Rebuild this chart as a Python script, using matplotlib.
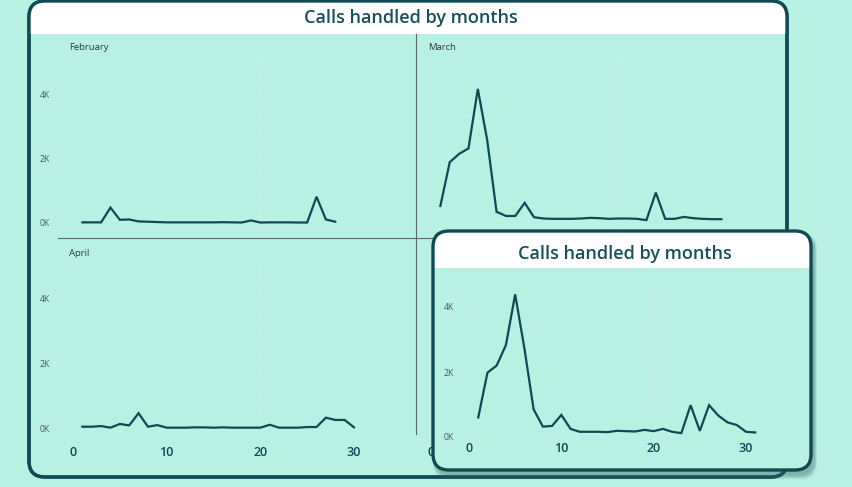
import numpy as np
import matplotlib
matplotlib.use("Agg")
import matplotlib.pyplot as plt
from matplotlib.patches import FancyBboxPatch, Rectangle

plt.rcParams['font.family'] = ['Open Sans', 'DejaVu Sans']

# daily calls handled
feb_calls = [20, 20, 20, 480, 100, 110, 50, 40, 30, 20, 20, 20, 20, 20,
             20, 25, 20, 15, 80, 15, 20, 20, 20, 15, 15, 820, 110, 40]
mar_calls = [530, 1900, 2160, 2330, 4190, 2590, 350, 220, 220, 630, 180,
             140, 130, 130, 130, 140, 160, 150, 130, 140, 140, 130, 90,
             950, 130, 130, 190, 150, 130, 120, 120]
apr_calls = [40, 40, 60, 10, 125, 80, 460, 40, 90, 10, 10, 10, 20, 20, 10,
             20, 10, 10, 10, 10, 100, 10, 10, 10, 30, 30, 320, 250, 250, 20]
detail_calls = [600, 1980, 2200, 2830, 4390, 2730, 850, 320, 340, 680, 250,
                160, 160, 160, 150, 190, 180, 170, 220, 180, 250, 160, 120,
                980, 190, 980, 660, 450, 370, 160, 140]

title = "Calls handled by months"
x_ticks = [0, 10, 20, 30]
y_ticks = [0, 2, 4]
y_labels = ["0K", "2K", "4K"]

MINT = "#b8f0e4"
DARK = "#0e4a54"
TITLE_C = "#15505c"
GREY = "#4d5a59"

W, H = 853, 487
fig = plt.figure(figsize=(W / 100, H / 100), dpi=100)
fig.patch.set_facecolor(MINT)


def px_axes(l, t, r, b, z):
    ax = fig.add_axes([l / W, 1 - b / H, (r - l) / W, (b - t) / H], zorder=z)
    ax.set_facecolor("none")
    return ax


def px_to_val(p, p0, p1, v0, v1):
    return v0 + (p - p0) * (v1 - v0) / (p1 - p0)


def panel(box, xref, yref, calls, z, show_x, show_y, xpad, ypad):
    l, t, r, b = box
    ax = px_axes(l, t, r, b, z)
    ax.set_xlim(px_to_val(l, *xref), px_to_val(r, *xref))
    ax.set_ylim(px_to_val(b, *yref), px_to_val(t, *yref))
    for s in ax.spines.values():
        s.set_visible(False)
    # faint dotted gridline
    ax.plot([20, 20], [-0.2, 5.0], color="white", lw=0.9, ls=(0, (1, 3)), alpha=0.5)
    if calls is not None:
        days = np.arange(1, len(calls) + 1)
        ax.plot(days, np.array(calls) / 1000, color=DARK, lw=1.6,
                solid_joinstyle="miter")
    ax.set_xticks(x_ticks)
    ax.set_xticklabels([str(v) for v in x_ticks], fontsize=9, fontweight="semibold", color=DARK)
    ax.set_yticks(y_ticks)
    ax.set_yticklabels(y_labels, fontsize=6.2, color=GREY)
    ax.tick_params(length=0, labelbottom=show_x, labelleft=show_y)
    ax.tick_params(axis="x", pad=xpad)
    ax.tick_params(axis="y", pad=ypad)
    return ax


# background layer (pixel coords)
bg = px_axes(0, 0, W, H, -10)
bg.set_xlim(0, W)
bg.set_ylim(H, 0)
bg.axis("off")

card = FancyBboxPatch((29, 1), 758, 476, boxstyle="round,pad=0,rounding_size=16",
                      facecolor=MINT, edgecolor=DARK, lw=2.4)
bg.add_patch(card)
band = Rectangle((29, 1), 758, 33, facecolor="white", edgecolor="none")
bg.add_patch(band)
band.set_clip_path(card)
bg.add_patch(FancyBboxPatch((29, 1), 758, 476, boxstyle="round,pad=0,rounding_size=16",
                            facecolor="none", edgecolor=DARK, lw=2.4))
bg.text(411, 18, title, ha="center", va="center", fontsize=13,
        fontweight="semibold", color=TITLE_C)

bg.plot([416, 416], [34, 434], color="#5c6b69", lw=0.8)
bg.plot([58, 787], [238, 238], color="#5c6b69", lw=0.8)

bg.text(69, 48, "February", ha="left", va="center", fontsize=6.8, color="#2f3a3a")
bg.text(428, 48, "March", ha="left", va="center", fontsize=6.8, color="#2f3a3a")
bg.text(69, 253, "April", ha="left", va="center", fontsize=6.8, color="#2f3a3a")

# small multiples
panel((58, 40, 416, 238), (73, 354, 0, 30), (223, 95, 0, 4), feb_calls, 1, False, True, 4, 6)
panel((416, 40, 774, 238), (431, 712, 0, 30), (223, 95, 0, 4), mar_calls, 1, False, False, 4, 6)
panel((58, 238, 416, 436), (73, 354, 0, 30), (428, 299, 0, 4), apr_calls, 1, True, True, 7, 6)
panel((416, 238, 774, 436), (431, 712, 0, 30), (428, 299, 0, 4), None, 1, True, False, 7, 6)

# overlay card with soft shadow
ov = px_axes(0, 0, W, H, 5)
ov.set_xlim(0, W)
ov.set_ylim(H, 0)
ov.axis("off")
for i in range(7):
    ov.add_patch(FancyBboxPatch((436 - i * 0.5, 235 - i * 0.3), 378 + i, 240 + i,
                                boxstyle="round,pad=0,rounding_size=16",
                                facecolor="#3d6b63", edgecolor="none", alpha=0.08))
ocard = FancyBboxPatch((433, 231), 378, 239, boxstyle="round,pad=0,rounding_size=16",
                       facecolor=MINT, edgecolor="none")
ov.add_patch(ocard)
oband = Rectangle((433, 231), 378, 37, facecolor="white", edgecolor="none")
ov.add_patch(oband)
oband.set_clip_path(ocard)
ov.add_patch(FancyBboxPatch((433, 231), 378, 239, boxstyle="round,pad=0,rounding_size=16",
                            facecolor="none", edgecolor=DARK, lw=2.4))
ov.text(625, 254, title, ha="center", va="center", fontsize=13,
        fontweight="semibold", color=TITLE_C)

panel((458, 268, 806, 441), (469, 746, 0, 30), (437, 307, 0, 4), detail_calls, 6, True, True, 1, 3)

fig.savefig("out.png", dpi=100, facecolor=MINT)
